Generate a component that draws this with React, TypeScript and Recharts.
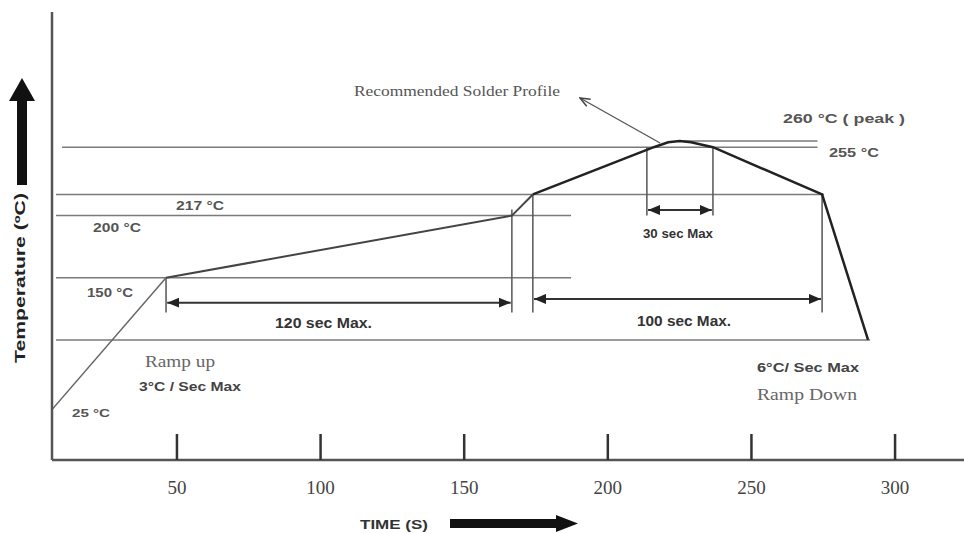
import { LineChart, Line, XAxis, YAxis, ReferenceLine } from 'recharts'

// solder reflow profile (time in s, temp in °C)
const rampTime = [6.5, 46.2]
const rampTemp = [44, 150]
const soakTime = [46.2, 166.6, 173.9]
const soakTemp = [150, 200, 217]
const reflowTime = [173.9, 216, 221, 225, 229, 236.6, 274.6, 290.6]
const reflowTemp = [217, 255, 259, 260, 259, 255, 217, 100]

const timeTicks = [50, 100, 150, 200, 250, 300]
const levelTemps = [260, 255, 217, 200, 150, 100]
const levelStart = [226, 10, 7.9, 7.9, 7.9, 7.9]
const levelEnd = [273, 273, 275.3, 187.2, 187.2, 291.3]

const rows = new Map<number, any>()
const add = (times: number[], temps: number[], key: string) =>
  times.forEach((t, i) => {
    const r = rows.get(t) ?? { t }
    r[key] = temps[i]
    rows.set(t, r)
  })
add(rampTime, rampTemp, 'ramp')
add(soakTime, soakTemp, 'soak')
add(reflowTime, reflowTemp, 'reflow')
const data = [...rows.values()].sort((a, b) => a.t - b.t)

const SANS = 'Liberation Sans, Arial, sans-serif'
const SERIF = 'Liberation Serif, Times New Roman, serif'
const GUIDE = '#7a7a7a'

const TimeTick = ({ x, y, payload }: any) => (
  <g>
    <line x1={x} x2={x} y1={y - 26} y2={y} stroke="#333" strokeWidth={2.5} />
    <text x={x} y={y + 34} textAnchor="middle" fontFamily={SERIF} fontSize={19} fill="#444">
      {payload.value}
    </text>
  </g>
)

const seg = (x1: number, y1: number, x2: number, y2: number) => [
  { x: x1, y: y1 },
  { x: x2, y: y2 },
]

function Label({ x, y, children, size = 12, font = SANS, weight = 'bold', fill = '#555', len }: any) {
  return (
    <text
      x={x}
      y={y}
      fontFamily={font}
      fontSize={size}
      fontWeight={weight}
      fill={fill}
      textLength={len}
      lengthAdjust={len ? 'spacingAndGlyphs' : undefined}
    >
      {children}
    </text>
  )
}

export default function App() {
  return (
    <div style={{ position: 'absolute', left: 0, top: 0, width: 964, height: 533, background: '#fff' }}>
      <svg width={0} height={0} style={{ position: 'absolute' }}>
        <defs>
          <marker
            id="head"
            viewBox="0 0 12 10"
            refX={12}
            refY={5}
            markerWidth={12}
            markerHeight={10}
            markerUnits="userSpaceOnUse"
            orient="auto-start-reverse"
          >
            <path d="M0,0 L12,5 L0,10 z" fill="#222" />
          </marker>
          <marker
            id="open"
            viewBox="0 0 12 10"
            refX={11}
            refY={5}
            markerWidth={12}
            markerHeight={10}
            markerUnits="userSpaceOnUse"
            orient="auto-start-reverse"
          >
            <path d="M1,1 L11,5 L1,9" fill="none" stroke="#444" strokeWidth={1.5} />
          </marker>
        </defs>
      </svg>

      <div style={{ position: 'absolute', left: 0, top: 0 }}>
        <LineChart width={964} height={533} data={data} margin={{ top: 12, right: 0, bottom: 0, left: 0 }}>
          <XAxis
            dataKey="t"
            type="number"
            domain={[6.5, 324]}
            allowDataOverflow
            ticks={timeTicks}
            height={73}
            tickSize={0}
            tickMargin={0}
            tickLine={false}
            tick={<TimeTick />}
            axisLine={{ stroke: '#555', strokeWidth: 2.5 }}
          />
          <YAxis
            type="number"
            domain={[3.5, 363.7]}
            allowDataOverflow
            width={52}
            tick={false}
            tickLine={false}
            axisLine={{ stroke: '#555', strokeWidth: 2.5 }}
          />

          {levelTemps.map((temp, i) => (
            <ReferenceLine
              key={temp}
              segment={seg(levelStart[i], temp, levelEnd[i], temp)}
              stroke={GUIDE}
              strokeWidth={1.5}
            />
          ))}

          {/* vertical markers */}
          <ReferenceLine segment={seg(46.2, 150, 46.2, 122)} stroke="#555" strokeWidth={1.5} />
          <ReferenceLine segment={seg(166.6, 205, 166.6, 122)} stroke="#555" strokeWidth={1.5} />
          <ReferenceLine segment={seg(173.9, 217, 173.9, 122)} stroke="#555" strokeWidth={1.5} />
          <ReferenceLine segment={seg(274.6, 217, 274.6, 122)} stroke="#555" strokeWidth={1.5} />
          <ReferenceLine segment={seg(213.6, 255, 213.6, 200)} stroke="#555" strokeWidth={1.5} />
          <ReferenceLine segment={seg(236.6, 255, 236.6, 200)} stroke="#555" strokeWidth={1.5} />

          {/* duration arrows */}
          <ReferenceLine
            segment={seg(46.6, 130, 166.2, 130)}
            stroke="#333"
            strokeWidth={2}
            markerStart="url(#head)"
            markerEnd="url(#head)"
          />
          <ReferenceLine
            segment={seg(174.3, 133, 274.2, 133)}
            stroke="#333"
            strokeWidth={2}
            markerStart="url(#head)"
            markerEnd="url(#head)"
          />
          <ReferenceLine
            segment={seg(214, 204.5, 236.2, 204.5)}
            stroke="#333"
            strokeWidth={2}
            markerStart="url(#head)"
            markerEnd="url(#head)"
          />
          <ReferenceLine
            segment={seg(218.2, 258.4, 190.3, 294.6)}
            stroke="#555"
            strokeWidth={1.3}
            markerEnd="url(#open)"
          />

          <Line dataKey="ramp" type="linear" stroke="#666" strokeWidth={1.5} dot={false} connectNulls isAnimationActive={false} />
          <Line dataKey="soak" type="linear" stroke="#444" strokeWidth={2} dot={false} connectNulls isAnimationActive={false} />
          <Line dataKey="reflow" type="linear" stroke="#222" strokeWidth={2.5} dot={false} connectNulls isAnimationActive={false} />
        </LineChart>
      </div>

      <svg width={964} height={533} style={{ position: 'absolute', left: 0, top: 0, pointerEvents: 'none' }}>
        {/* axis arrows */}
        <rect x={17} y={98} width={10} height={87} fill="#111" />
        <path d="M9,101 L22,78 L35,101 z" fill="#111" />
        <rect x={450} y={519} width={108} height={9} fill="#111" />
        <path d="M556,515 L578,523.5 L556,532 z" fill="#111" />

        <text
          transform="translate(25 278) rotate(-90)"
          textAnchor="middle"
          fontFamily={SANS}
          fontSize={15}
          fontWeight="bold"
          fill="#222"
          textLength={170}
          lengthAdjust="spacingAndGlyphs"
        >
          Temperature (ºC)
        </text>
        <Label x={360} y={529} size={12} fill="#333" len={68}>TIME (S)</Label>

        <Label x={354} y={96} size={15} font={SERIF} weight="normal" fill="#555" len={206}>
          Recommended Solder Profile
        </Label>
        <Label x={783} y={123} size={12} len={122}>260 °C ( peak )</Label>
        <Label x={829} y={157} size={12} len={50}>255 °C</Label>
        <Label x={176} y={210} size={12} len={48}>217 °C</Label>
        <Label x={93} y={232} size={12} len={48}>200 °C</Label>
        <Label x={87} y={297} size={12} len={46}>150 °C</Label>
        <Label x={72} y={417} size={11} len={38}>25 °C</Label>

        <Label x={275} y={328} size={14} fill="#333" len={97}>120 sec Max.</Label>
        <Label x={637} y={326} size={14} fill="#333" len={94}>100 sec Max.</Label>
        <Label x={643} y={238} size={13} fill="#333" len={70}>30 sec Max</Label>

        <Label x={145} y={367} size={16} font={SERIF} weight="normal" fill="#666" len={70}>Ramp up</Label>
        <Label x={139} y={391} size={13} fill="#444" len={102}>3°C / Sec Max</Label>
        <Label x={757} y={372} size={13} fill="#444" len={102}>6°C/ Sec Max</Label>
        <Label x={757} y={400} size={16} font={SERIF} weight="normal" fill="#666" len={100}>Ramp Down</Label>
      </svg>
    </div>
  )
}
